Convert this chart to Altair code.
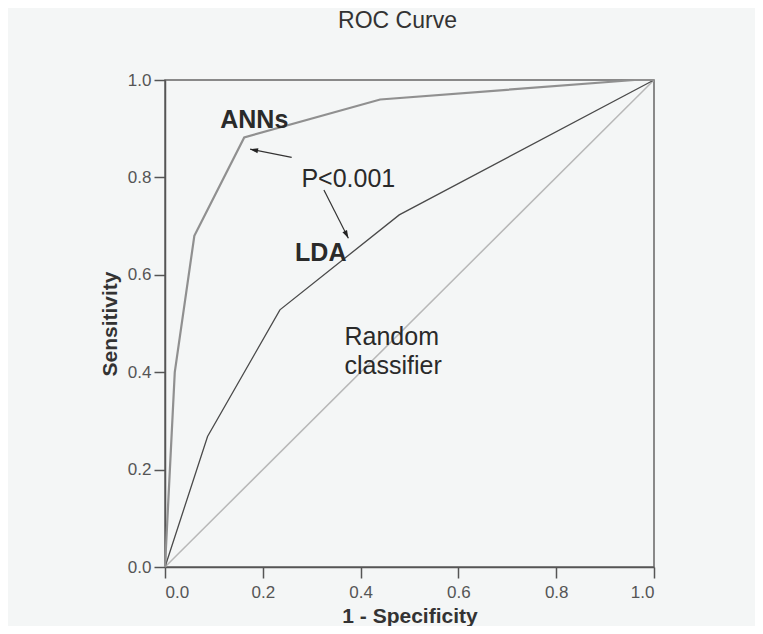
import altair as alt
import pandas as pd

# ---- data ----
ann_fpr = [0.0, 0.003, 0.02, 0.06, 0.162, 0.44, 0.96, 1.0]
ann_tpr = [0.0, 0.06, 0.40, 0.68, 0.882, 0.96, 1.0, 1.0]

lda_fpr = [0.0, 0.087, 0.235, 0.479, 1.0]
lda_tpr = [0.0, 0.268, 0.528, 0.723, 1.0]

rand_x = [0.0, 1.0]
rand_y = [0.0, 1.0]

tick_values = [0.0, 0.2, 0.4, 0.6, 0.8, 1.0]

label_text = ["ANNs", "P<0.001", "LDA", "Random", "classifier"]
label_x = [0.113, 0.279, 0.266, 0.367, 0.367]
label_y = [0.901, 0.780, 0.628, 0.456, 0.396]
label_bold = ["bold", "normal", "bold", "normal", "normal"]

arrow_x = [0.259, 0.325]
arrow_y = [0.841, 0.774]
arrow_x2 = [0.174, 0.375]
arrow_y2 = [0.858, 0.675]
arrow_angle = [281, 153]

FONT = "Liberation Sans"

xscale = alt.Scale(domain=[0, 1], nice=False)
yscale = alt.Scale(domain=[0, 1], nice=False)

xaxis = alt.Axis(values=tick_values, format=".1f", title="1 - Specificity",
                 titleFontSize=21, titleFontWeight="bold", titleColor="#333",
                 titlePadding=5, labelPadding=6)
yaxis = alt.Axis(values=tick_values, format=".1f", title="Sensitivity",
                 titleFontSize=21, titleFontWeight="bold", titleColor="#333",
                 titlePadding=7, labelPadding=3)

X = alt.X("x:Q", scale=xscale, axis=xaxis)
Y = alt.Y("y:Q", scale=yscale, axis=yaxis)

df_rand = pd.DataFrame({"x": rand_x, "y": rand_y, "o": range(len(rand_x))})
df_lda = pd.DataFrame({"x": lda_fpr, "y": lda_tpr, "o": range(len(lda_fpr))})
df_ann = pd.DataFrame({"x": ann_fpr, "y": ann_tpr, "o": range(len(ann_fpr))})
df_lab = pd.DataFrame({"x": label_x, "y": label_y, "t": label_text, "w": label_bold})
df_arr = pd.DataFrame({"x": arrow_x, "y": arrow_y, "x2": arrow_x2, "y2": arrow_y2,
                       "a": arrow_angle})

rand = alt.Chart(df_rand).mark_line(color="#b8b8b8", strokeWidth=1.5).encode(
    x=X, y=Y, order="o:Q")
lda = alt.Chart(df_lda).mark_line(color="#4a4a4a", strokeWidth=1.3).encode(
    x=X, y=Y, order="o:Q")
ann = alt.Chart(df_ann).mark_line(color="#909090", strokeWidth=2.2).encode(
    x=X, y=Y, order="o:Q")

bold_labels = alt.Chart(df_lab[df_lab.w == "bold"]).mark_text(
    font=FONT, fontSize=25, fontWeight="bold", color="#2a2a2a",
    align="left", baseline="alphabetic").encode(x=X, y=Y, text="t:N")
norm_labels = alt.Chart(df_lab[df_lab.w == "normal"]).mark_text(
    font=FONT, fontSize=25, fontWeight="normal", color="#2a2a2a",
    align="left", baseline="alphabetic").encode(x=X, y=Y, text="t:N")

arrow_lines = alt.Chart(df_arr).mark_rule(color="#333", strokeWidth=1.2).encode(
    x=X, y=Y, x2="x2:Q", y2="y2:Q")
arrow_heads = alt.Chart(df_arr).mark_point(
    shape="M0,0L-0.32,1L0.32,1Z", filled=True, color="#222", size=256, opacity=1
).encode(x=alt.X("x2:Q", scale=xscale, axis=xaxis),
         y=alt.Y("y2:Q", scale=yscale, axis=yaxis),
         angle=alt.Angle("a:Q", scale=None))

chart = alt.layer(rand, lda, ann, arrow_lines, arrow_heads, bold_labels, norm_labels).properties(
    width=489, height=487,
    title=alt.TitleParams("ROC Curve", fontSize=23, font=FONT, fontWeight="normal",
                          color="#333", offset=38, dx=-12),
    autosize=alt.AutoSizeParams(type="none"),
    padding={"left": 157, "top": 72, "right": 101, "bottom": 59},
).configure(
    background="#f4f6f6",
    font=FONT,
).configure_view(
    stroke="#666", strokeWidth=1.5
).configure_axis(
    grid=False, domainColor="#555", domainWidth=1.5, tickColor="#555",
    tickWidth=1.5, tickSize=11, labelColor="#555", labelFontSize=17,
    labelFont=FONT, titleFont=FONT
)

chart.save("out.html", embed_options={"renderer": "svg", "actions": False})
